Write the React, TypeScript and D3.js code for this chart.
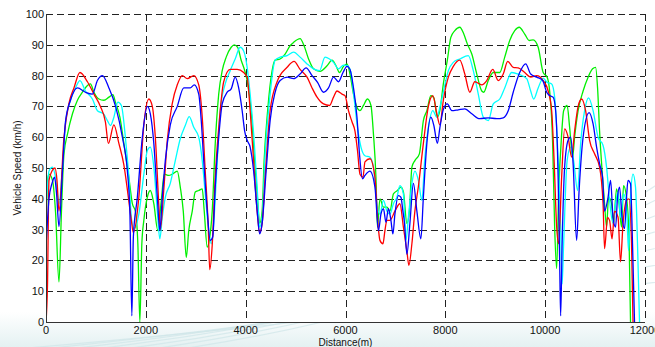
import React from "react";
import * as d3 from "d3";

const xTicks = [0, 2000, 4000, 6000, 8000, 10000, 12000];
const yTicks = [0, 10, 20, 30, 40, 50, 60, 70, 80, 90, 100];

type P = [number, number];

const redSeries: P[] = [
  [0, 0], [30, 12], [60, 46], [120, 49], [180, 50], [220, 46], [260, 36], [360, 60], [460, 71], [560, 76], [680, 81],
  [830, 78], [960, 74], [1090, 70], [1190, 65], [1250, 58], [1360, 64], [1460, 58], [1560, 51], [1630, 43],
  [1710, 33], [1750, 29], [1860, 40.5], [1960, 64], [2060, 72.4], [2130, 70], [2190, 60], [2260, 38], [2290, 30],
  [2360, 43], [2430, 59], [2530, 71], [2630, 77], [2730, 80], [2830, 79], [2960, 80], [3060, 77], [3130, 66.5],
  [3190, 49], [3250, 31], [3280, 17], [3330, 25], [3390, 47], [3460, 63], [3560, 78], [3690, 82], [3830, 82],
  [3960, 81], [4030, 79.5], [4090, 68.6], [4160, 52], [4230, 36], [4280, 29], [4330, 32], [4390, 47], [4490, 68.6],
  [4630, 78], [4830, 82.7], [4970, 84.6], [5090, 82], [5230, 79.5], [5330, 76], [5430, 73], [5560, 70.8], [5680, 70.3],
  [5760, 73], [5830, 75], [5930, 74], [5990, 73.5], [6060, 68.6], [6130, 65], [6190, 62], [6240, 55.7], [6290, 48],
  [6350, 47], [6390, 52], [6490, 53], [6590, 47], [6650, 32], [6690, 26.5], [6750, 25.4], [6790, 29.7], [6830, 33],
  [6890, 33], [6990, 36], [7090, 38.4], [7160, 30.8], [7230, 23], [7270, 18.4], [7330, 25.4], [7390, 36], [7460, 44],
  [7560, 58], [7660, 70], [7750, 73.5], [7830, 67.6], [7890, 64], [7960, 72], [8060, 79.5], [8160, 83], [8290, 85],
  [8390, 80.5], [8490, 74.6], [8590, 78], [8730, 77], [8830, 78.4], [8950, 82], [9060, 78.4], [9160, 80.5],
  [9250, 84.6], [9360, 82.7], [9460, 82.5], [9590, 81], [9710, 79.5], [9830, 80], [9960, 78.4], [10060, 75],
  [10130, 68.6], [10180, 52], [10230, 31], [10270, 25.4], [10330, 47], [10390, 62.7], [10460, 60], [10530, 53.5],
  [10590, 62], [10660, 70], [10730, 72.4], [10810, 68.6], [10890, 59], [10990, 54.6], [11090, 50.3], [11160, 38.4],
  [11190, 23.8], [11250, 34], [11290, 33], [11340, 27], [11390, 36], [11460, 34], [11510, 19.5], [11560, 32],
  [11630, 39.5], [11680, 40], [11730, 25.4], [11760, 0],
];

const blueSeries: P[] = [
  [0, 24], [60, 40], [120, 45], [170, 47], [210, 42], [260, 31], [330, 49], [390, 65], [490, 72], [630, 76],
  [790, 74.6], [930, 74], [1030, 78.4], [1130, 80], [1260, 76], [1400, 69.7], [1530, 60], [1630, 49], [1680, 36],
  [1720, 2], [1750, 27.6], [1830, 40.5], [1930, 60], [2030, 70], [2090, 67.6], [2160, 58], [2230, 40.5], [2280, 29.7],
  [2330, 40.5], [2390, 52.4], [2490, 64], [2630, 70], [2760, 76], [2890, 76], [2970, 77], [3060, 74], [3110, 65.4],
  [3160, 52.4], [3230, 36], [3290, 26.5], [3340, 27.6], [3390, 43.8], [3460, 60], [3530, 70.8], [3630, 74.6],
  [3710, 75.7], [3790, 79.5], [3860, 76], [3930, 68.6], [3980, 62], [4030, 59], [4090, 56.8], [4160, 49], [4230, 36],
  [4280, 28.6], [4330, 32], [4410, 49], [4490, 65.4], [4590, 74.6], [4690, 78.4], [4830, 79.5], [4960, 79],
  [5090, 80.5], [5210, 82.5], [5330, 80], [5440, 77.8], [5560, 74.6], [5660, 76], [5760, 79.5], [5860, 78],
  [5950, 81], [6030, 83], [6090, 82], [6160, 76], [6230, 66.5], [6280, 54.6], [6340, 46.5], [6390, 47.6],
  [6490, 49], [6590, 43.8], [6660, 29.7], [6710, 35], [6760, 36.8], [6810, 32.4], [6860, 36.8], [6910, 33],
  [6950, 28.6], [6990, 35], [7060, 41], [7110, 40.5], [7150, 36], [7180, 32.4], [7230, 22], [7290, 32], [7360, 45],
  [7430, 36], [7510, 27], [7560, 40.5], [7630, 58], [7710, 66.5], [7770, 63.8], [7840, 58], [7890, 63], [7960, 69],
  [8040, 70.8], [8130, 68.6], [8260, 68.9], [8390, 69.2], [8530, 67.6], [8690, 66], [8860, 66.3], [9030, 66],
  [9160, 66.3], [9260, 68.6], [9360, 74.6], [9490, 81], [9610, 83.8], [9710, 80.5], [9830, 79.5], [9950, 78.4],
  [10030, 74.6], [10090, 73.5], [10160, 73], [10210, 68.6], [10260, 47], [10290, 20], [10310, 2], [10340, 25.4],
  [10390, 50.3], [10460, 59], [10510, 60], [10560, 51.4], [10630, 26.5], [10680, 42.7], [10760, 60], [10880, 68],
  [10960, 64.3], [11030, 56.8], [11090, 51.4], [11150, 47], [11190, 36], [11260, 40.5], [11310, 46], [11360, 34],
  [11410, 30.8], [11450, 40.5], [11490, 43.8], [11540, 34], [11590, 30.3], [11630, 40.5], [11660, 46], [11710, 44.9],
  [11750, 25.4], [11790, 0],
];

const cyanSeries: P[] = [
  [0, 36], [60, 49], [130, 50.3], [190, 47], [260, 38.4], [330, 50.3], [390, 64.3], [490, 72], [590, 76], [680, 78.4],
  [790, 75], [930, 72.4], [1030, 68.6], [1150, 67.6], [1230, 65.4], [1290, 63.8], [1360, 66.5], [1440, 71.4],
  [1510, 70.3], [1590, 60], [1660, 47], [1710, 34], [1760, 30.3], [1860, 35], [1960, 48], [2030, 55.7], [2090, 56.8],
  [2160, 50.3], [2230, 36], [2280, 27], [2330, 34], [2390, 40.5], [2490, 45], [2590, 52.4], [2690, 59.5], [2790, 63.8],
  [2870, 66.7], [2960, 63.2], [3060, 60], [3130, 52.4], [3190, 41.6], [3260, 29.7], [3310, 25.4], [3360, 32],
  [3430, 52.4], [3490, 68.6], [3590, 77.3], [3690, 81.6], [3790, 85.4], [3890, 89.2], [3960, 88], [4030, 82.7],
  [4090, 74], [4160, 61], [4230, 43.8], [4280, 30.8], [4330, 34], [4390, 54.6], [4490, 74], [4590, 85], [4690, 86],
  [4830, 86.5], [4960, 87.6], [5090, 86], [5230, 83.8], [5360, 82.2], [5480, 81.6], [5590, 86], [5680, 85.4],
  [5760, 84.3], [5860, 82.2], [5960, 83.4], [6040, 83.2], [6110, 81], [6170, 73], [6240, 63.2], [6310, 56.8],
  [6390, 54], [6490, 53.5], [6560, 50.3], [6630, 38.4], [6690, 35], [6760, 39.5], [6830, 36], [6890, 35], [6960, 38.4],
  [7030, 40.5], [7090, 44.3], [7160, 41.6], [7210, 26.5], [7260, 34], [7330, 44.9], [7390, 49], [7460, 46], [7530, 39.5],
  [7590, 53.5], [7660, 63.2], [7750, 68.6], [7830, 66.5], [7890, 69.7], [7970, 75.4], [8060, 81.6], [8160, 84.3],
  [8290, 85.4], [8460, 86.5], [8560, 81.6], [8660, 74], [8760, 66.5], [8860, 65.4], [8960, 70.8], [9090, 72.4],
  [9190, 76], [9330, 81], [9460, 80.5], [9630, 79], [9710, 75], [9770, 72.4], [9860, 76], [9960, 79.2], [10040, 77.8],
  [10130, 77.3], [10190, 73], [10260, 52.4], [10310, 30.8], [10340, 12.4], [10370, 25.4], [10440, 52.4],
  [10510, 56.8], [10570, 52.4], [10650, 42.7], [10710, 57.8], [10790, 68.6], [10870, 72.8], [10960, 68.6],
  [11060, 60], [11160, 57.3], [11230, 50.3], [11290, 39.5], [11360, 32], [11410, 38.4], [11460, 42.2], [11510, 34],
  [11570, 41.6], [11630, 37.3], [11670, 23.2], [11710, 40.5], [11760, 48], [11810, 43.8], [11850, 25.4], [11890, 0],
];

const greenSeries: P[] = [
  [0, 30], [30, 46], [60, 48], [130, 46], [190, 36], [260, 13], [310, 36], [360, 54.6], [430, 61], [530, 67.6],
  [630, 72], [730, 74.6], [830, 76.8], [890, 77.3], [960, 74.6], [1060, 72.4], [1160, 72], [1260, 73], [1340, 73.8],
  [1390, 71.4], [1480, 66.5], [1560, 58], [1660, 47], [1730, 38.4], [1790, 36], [1840, 25.4], [1880, 0], [1920, 25.4],
  [1960, 33], [2030, 40.5], [2090, 42.7], [2160, 38.4], [2240, 29.7], [2310, 39.5], [2370, 48], [2460, 47.6],
  [2530, 48], [2630, 49], [2690, 43.8], [2750, 36], [2810, 21], [2860, 29.7], [2930, 36], [2990, 42.2], [3060, 42.7],
  [3130, 43.2], [3170, 36], [3230, 24.3], [3270, 26.5], [3330, 36], [3390, 57.8], [3460, 74], [3530, 81.6], [3610, 86],
  [3710, 89.2], [3770, 90], [3840, 89.2], [3910, 85], [3960, 82.7], [4030, 78.4], [4110, 68.6], [4170, 54.6],
  [4240, 39.5], [4280, 32], [4330, 36], [4370, 52.4], [4440, 68.6], [4530, 81.6], [4590, 85], [4690, 85.4], [4790, 87],
  [4890, 89.7], [4960, 90.8], [5090, 92], [5170, 89.7], [5260, 85.4], [5360, 82.2], [5490, 81.4], [5630, 83.2],
  [5730, 85], [5810, 83.2], [5880, 81], [5960, 83], [6030, 83.8], [6090, 80.5], [6160, 74], [6230, 69.7], [6290, 68.6],
  [6360, 70.3], [6440, 72.4], [6510, 70.3], [6560, 61], [6610, 47], [6640, 30.8], [6690, 40], [6760, 37.3], [6830, 37.3],
  [6890, 36], [6960, 41.6], [7040, 42.7], [7110, 43.8], [7160, 42.2], [7230, 32], [7280, 36], [7330, 50.3], [7390, 52.4],
  [7480, 54.6], [7560, 65.4], [7630, 68.6], [7710, 73.5], [7770, 72.8], [7840, 66.5], [7890, 68.6], [7960, 77.3],
  [8040, 85], [8110, 92.4], [8190, 94.6], [8290, 95.7], [8370, 93.5], [8440, 90.3], [8530, 87], [8630, 80.5], [8730, 75],
  [8770, 74.6], [8860, 78.4], [8960, 81], [9090, 81], [9190, 86], [9290, 91.4], [9390, 94.6], [9480, 95.7], [9590, 93.5],
  [9680, 91.4], [9760, 91.6], [9860, 89.2], [9960, 81], [10040, 79.5], [10090, 75], [10150, 58], [10190, 30.8],
  [10230, 17.3], [10270, 41.6], [10330, 61], [10370, 68.6], [10440, 70.3], [10490, 63.2], [10550, 53.5], [10590, 60],
  [10660, 68.6], [10760, 75], [10860, 79.5], [10950, 82.2], [11010, 82.7], [11050, 76], [11090, 62], [11150, 47],
  [11190, 38.4], [11230, 30.8], [11270, 40.5], [11330, 38.4], [11370, 32], [11430, 43.2], [11480, 38.4], [11530, 30.8],
  [11570, 44.3], [11630, 40.5], [11680, 27.6], [11710, 0],
];

const seriesList: { data: P[]; color: string }[] = [
  { data: greenSeries, color: "#00f000" },
  { data: cyanSeries, color: "#00ffff" },
  { data: redSeries, color: "#ff0000" },
  { data: blueSeries, color: "#0000ff" },
];

const W = 655;
const H = 347;
const left = 46;
const right = 645;
const top = 14;
const bottom = 322;

export default function App() {
  const x = d3.scaleLinear().domain([0, 12000]).range([left, right]);
  const y = d3.scaleLinear().domain([0, 100]).range([bottom, top]);
  const line = d3
    .line<P>()
    .x((d) => x(d[0]))
    .y((d) => y(d[1]))
    .curve(d3.curveMonotoneX);

  const font = "'Liberation Sans', Arial, sans-serif";
  const streaks = [0, 1, 2, 3, 4, 5, 6];

  return (
    <svg
      width={W}
      height={H}
      style={{ position: "absolute", left: 0, top: 0, background: "#ffffff" }}
    >
      <defs>
        <linearGradient id="bg" x1="0" y1="0" x2="0" y2="1">
          <stop offset="0" stopColor="#ffffff" />
          <stop offset="1" stopColor="#e4f1f2" />
        </linearGradient>
        <clipPath id="plotclip">
          <rect x={left} y={top - 2} width={right - left} height={bottom - top + 2} />
        </clipPath>
      </defs>
      <rect x={0} y={bottom - 10} width={W} height={H - bottom + 10} fill="url(#bg)" />
      {streaks.map((i) => (
        <path
          key={i}
          d={`M ${-20 + i * 30} ${H + 5} Q ${250 + i * 40} ${330 - i * 4} ${W + 20} ${280 - i * 18}`}
          fill="none"
          stroke="#cfe6e8"
          strokeWidth={1.2}
          opacity={0.7}
        />
      ))}
      <rect x={left} y={top} width={right - left} height={bottom - top} fill="#ffffff" />
      {yTicks.map((t) => (
        <line
          key={"gy" + t}
          x1={left}
          x2={right}
          y1={Math.round(y(t)) + 0.5}
          y2={Math.round(y(t)) + 0.5}
          stroke="#222"
          strokeWidth={1}
          strokeDasharray="7,4"
        />
      ))}
      {xTicks.map((t) => (
        <line
          key={"gx" + t}
          x1={Math.round(x(t)) + 0.5}
          x2={Math.round(x(t)) + 0.5}
          y1={top}
          y2={bottom}
          stroke="#222"
          strokeWidth={1}
          strokeDasharray="7,4"
        />
      ))}
      <g clipPath="url(#plotclip)">
        {seriesList.map((s, i) => (
          <path key={i} d={line(s.data) || ""} fill="none" stroke={s.color} strokeWidth={1.3} />
        ))}
      </g>
      <line x1={left + 0.5} x2={left + 0.5} y1={top} y2={bottom} stroke="#333" strokeWidth={1} />
      <line x1={left} x2={right} y1={bottom + 0.5} y2={bottom + 0.5} stroke="#333" strokeWidth={1} />
      {yTicks.map((t) => (
        <text
          key={"ty" + t}
          x={left - 2}
          y={y(t) + 4}
          textAnchor="end"
          fontFamily={font}
          fontSize={11}
          fill="#111"
        >
          {t}
        </text>
      ))}
      {xTicks.map((t) => (
        <text
          key={"tx" + t}
          x={x(t)}
          y={bottom + 12}
          textAnchor="middle"
          fontFamily={font}
          fontSize={11}
          fill="#111"
        >
          {t}
        </text>
      ))}
      <text
        x={(left + right) / 2}
        y={bottom + 24}
        textAnchor="middle"
        fontFamily={font}
        fontSize={10}
        fill="#111"
      >
        Distance(m)
      </text>
      <text
        transform={`translate(21, ${(top + bottom) / 2}) rotate(-90)`}
        textAnchor="middle"
        fontFamily={font}
        fontSize={10}
        fill="#111"
      >
        Vehicle Speed (km/h)
      </text>
    </svg>
  );
}
